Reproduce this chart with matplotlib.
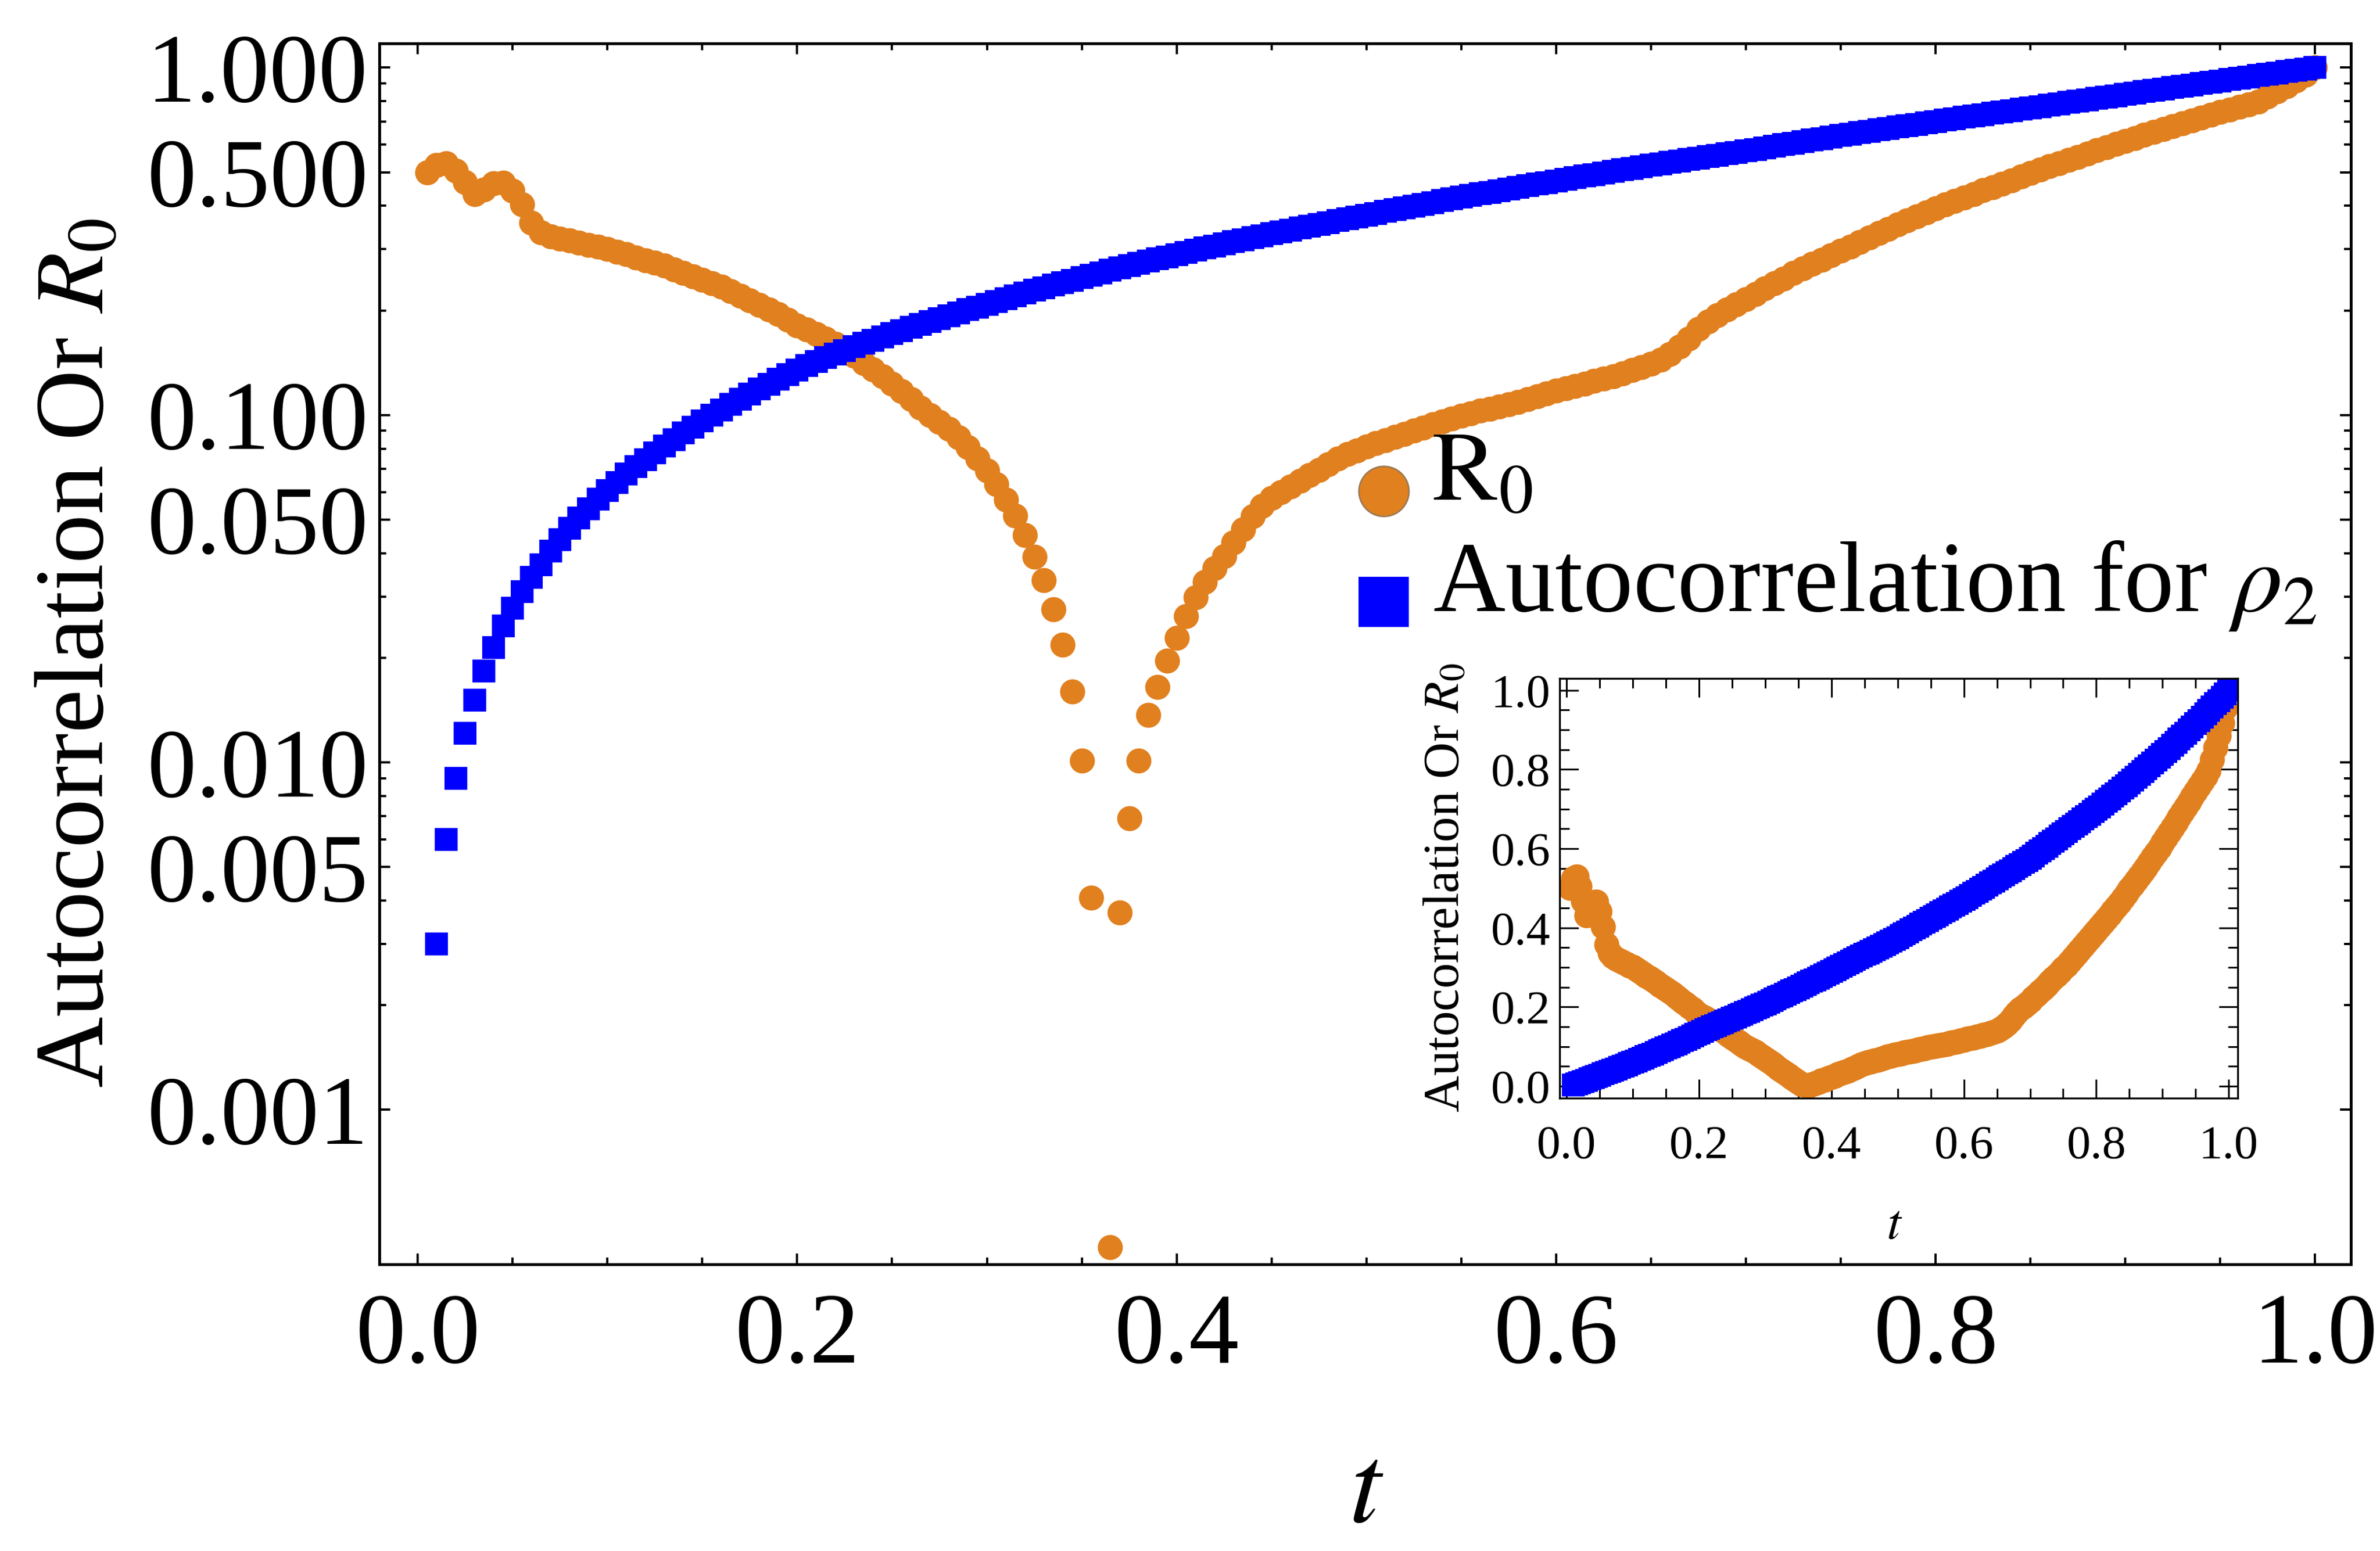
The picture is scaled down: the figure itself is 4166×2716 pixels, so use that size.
import numpy as np
import matplotlib
matplotlib.use('Agg')
import matplotlib.pyplot as plt
from matplotlib.ticker import NullFormatter

plt.rcParams['font.family'] = ['Liberation Serif', 'DejaVu Serif']
plt.rcParams['mathtext.fontset'] = 'stix'

# sampling grid t = 0.005 ... 1.000
t = np.round(np.arange(1, 201) * 0.005, 3)

# R0 (0.36 falls below the axis -> nan)
r0 = [0.500, 0.525, 0.530, 0.505, 0.468, 0.432, 0.445, 0.464, 0.466, 0.442,
      0.403, 0.358, 0.336, 0.327, 0.322, 0.318, 0.313, 0.309, 0.305, 0.301,
      0.295, 0.290, 0.284, 0.279, 0.274, 0.269, 0.262, 0.256, 0.251, 0.245,
      0.239, 0.234, 0.227, 0.220, 0.214, 0.207, 0.201, 0.195, 0.188, 0.181,
      0.176, 0.171, 0.166, 0.160, 0.154, 0.148, 0.141, 0.135, 0.129, 0.123,
      0.117, 0.111, 0.105, 0.100, 0.0955, 0.0912, 0.0861, 0.0807, 0.0750, 0.0692,
      0.0631, 0.0571, 0.0513, 0.0451, 0.0391, 0.0334, 0.0276, 0.0218, 0.0160, 0.0101,
      0.00408, np.nan, 0.000402, 0.00369, 0.00689, 0.0101, 0.0137, 0.0165, 0.0196, 0.0228,
      0.0263, 0.0299, 0.0330, 0.0362, 0.0392, 0.0430, 0.0468, 0.0510, 0.0547, 0.0576,
      0.0600, 0.0622, 0.0645, 0.0670, 0.0695, 0.0722, 0.0748, 0.0771, 0.0791, 0.0810,
      0.0828, 0.0846, 0.0864, 0.0882, 0.0900, 0.0920, 0.0940, 0.0959, 0.0977, 0.0993,
      0.1010, 0.1028, 0.1043, 0.1058, 0.1074, 0.1090, 0.1110, 0.1130, 0.1155, 0.1175,
      0.1193, 0.1212, 0.1232, 0.1252, 0.1272, 0.1294, 0.1318, 0.1345, 0.1375, 0.1405,
      0.1440, 0.1495, 0.1575, 0.166, 0.177, 0.186, 0.194, 0.201, 0.208, 0.215,
      0.223, 0.231, 0.239, 0.247, 0.256, 0.264, 0.272, 0.280, 0.288, 0.297,
      0.305, 0.314, 0.324, 0.334, 0.343, 0.353, 0.363, 0.373, 0.383, 0.393,
      0.403, 0.413, 0.423, 0.433, 0.443, 0.453, 0.463, 0.474, 0.486, 0.497,
      0.508, 0.520, 0.531, 0.542, 0.553, 0.565, 0.578, 0.590, 0.602, 0.614,
      0.627, 0.640, 0.653, 0.666, 0.679, 0.692, 0.705, 0.719, 0.732, 0.745,
      0.758, 0.771, 0.784, 0.798, 0.825, 0.855, 0.885, 0.918, 0.955, 1.000]

# autocorrelation for rho_2 (first sample t=0.005 is off the log axis)
auto_rho2 = [np.nan, 0.0030, 0.0060, 0.0090, 0.0121, 0.0151, 0.0183, 0.0214, 0.0247, 0.0278,
             0.0310, 0.0341, 0.0371, 0.0405, 0.0438, 0.0471, 0.0505, 0.0537, 0.0573, 0.0606,
             0.0639, 0.0675, 0.0709, 0.0743, 0.0779, 0.0813, 0.0850, 0.0887, 0.0923, 0.0962,
             0.0998, 0.1035, 0.1072, 0.1110, 0.1148, 0.1187, 0.1226, 0.1266, 0.1306, 0.1346,
             0.1386, 0.1426, 0.1462, 0.1498, 0.1534, 0.1570, 0.1606, 0.1642, 0.1678, 0.1714,
             0.1750, 0.1786, 0.1822, 0.1859, 0.1896, 0.1933, 0.1970, 0.2008, 0.2046, 0.2084,
             0.2124, 0.2164, 0.2204, 0.2244, 0.2284, 0.2324, 0.2364, 0.2404, 0.2444, 0.2485,
             0.2526, 0.2567, 0.2608, 0.2649, 0.2690, 0.2731, 0.2772, 0.2813, 0.2854, 0.2895,
             0.2938, 0.2981, 0.3024, 0.3067, 0.3110, 0.3153, 0.3196, 0.3239, 0.3282, 0.3325,
             0.3368, 0.3411, 0.3454, 0.3497, 0.3540, 0.3583, 0.3626, 0.3669, 0.3712, 0.3755,
             0.3803, 0.3851, 0.3899, 0.3947, 0.3995, 0.4043, 0.4091, 0.4139, 0.4187, 0.4235,
             0.4283, 0.4331, 0.4379, 0.4427, 0.4475, 0.4523, 0.4571, 0.4619, 0.4667, 0.4715,
             0.4767, 0.4819, 0.4871, 0.4923, 0.4975, 0.5027, 0.5079, 0.5131, 0.5183, 0.5235,
             0.5287, 0.5339, 0.5391, 0.5443, 0.5495, 0.5547, 0.5599, 0.5651, 0.5703, 0.5755,
             0.5817, 0.5879, 0.5941, 0.6003, 0.6065, 0.6127, 0.6189, 0.6251, 0.6313, 0.6375,
             0.6437, 0.6499, 0.6561, 0.6623, 0.6685, 0.6747, 0.6809, 0.6871, 0.6933, 0.6995,
             0.7061, 0.7127, 0.7193, 0.7259, 0.7325, 0.7391, 0.7457, 0.7523, 0.7589, 0.7655,
             0.7727, 0.7799, 0.7871, 0.7943, 0.8015, 0.8087, 0.8159, 0.8231, 0.8303, 0.8375,
             0.8453, 0.8531, 0.8609, 0.8687, 0.8765, 0.8843, 0.8921, 0.8999, 0.9077, 0.9155,
             0.9239, 0.9323, 0.9407, 0.9491, 0.9575, 0.9659, 0.9743, 0.9827, 0.9911, 1.0000]

y_major = [0.001, 0.005, 0.01, 0.05, 0.1, 0.5, 1.0]
y_major_labels = ['0.001', '0.005', '0.010', '0.050', '0.100', '0.500', '1.000']
x_major = [0.0, 0.2, 0.4, 0.6, 0.8, 1.0]
x_major_labels = ['0.0', '0.2', '0.4', '0.6', '0.8', '1.0']

orange = '#E1801F'
blue = '#0000FF'

fig = plt.figure(figsize=(20.83, 13.58), dpi=200)

# main log plot
ax = fig.add_axes([0.1594, 0.1847, 0.8284, 0.7873])
ax.plot(t, r0, 'o', color=orange, ms=15.8, mew=0, ls='none')
ax.plot(t, auto_rho2, 's', color=blue, ms=14.4, mew=0, ls='none')
ax.set_yscale('log')
ax.set_xlim(-0.0202, 1.0189)
ax.set_ylim(0.000358, 1.174)

ax.set_yticks(y_major)
ax.set_yticklabels(y_major_labels)
y_minor = [m * d for d in [0.001, 0.01, 0.1] for m in [2, 3, 4, 6, 7, 8, 9]]
ax.set_yticks(y_minor, minor=True)
ax.yaxis.set_minor_formatter(NullFormatter())
ax.set_xticks(x_major)
ax.set_xticklabels(x_major_labels)
ax.set_xticks([v for v in np.round(np.arange(0, 1.0001, 0.05), 2) if v not in x_major], minor=True)

ax.tick_params(which='both', direction='in', top=True, right=True, width=1.4)
ax.tick_params(axis='y', labelsize=62, pad=7)
ax.tick_params(axis='x', labelsize=63, pad=18)
ax.tick_params(which='major', length=6.8)
ax.tick_params(which='minor', length=4.3)
for s in ax.spines.values():
    s.set_linewidth(1.8)

fig.text(0.0335, 0.579, r'Autocorrelation Or $R_0$', rotation=90, ha='center', va='center', fontsize=62)
fig.text(0.574, 0.0364, r'$t$', ha='center', va='center', fontsize=72)

# legend, laid out by hand (marker sits on the baseline side like the original)
ax.plot([0.5093], [0.6334], 'o', color=orange, ms=31.5, mec='#9a7a55', mew=1,
        transform=ax.transAxes, clip_on=False)
ax.plot([0.5093], [0.5425], 's', color=blue, ms=32, mew=0,
        transform=ax.transAxes, clip_on=False)
ax.text(0.5336, 0.6257, r'$\mathrm{R}_0$', transform=ax.transAxes, fontsize=62,
        ha='left', va='baseline')
ax.text(0.5343, 0.5350, r'Autocorrelation for $\rho_2$', transform=ax.transAxes, fontsize=63,
        ha='left', va='baseline')

# inset, linear scale
axi = fig.add_axes([0.6552, 0.2918, 0.285, 0.2708])
axi.plot(t, r0, 'o', color=orange, ms=15.8, mew=0, ls='none')
axi.plot(t, auto_rho2, 's', color=blue, ms=14.4, mew=0, ls='none')
axi.set_xlim(-0.011, 1.0135)
axi.set_ylim(-0.031, 1.030)
axi.set_xticks(x_major)
axi.set_xticklabels(x_major_labels)
axi.set_yticks(x_major)
axi.set_yticklabels(x_major_labels)
inset_minor = [v for v in np.round(np.arange(0, 1.0001, 0.05), 2) if v not in x_major]
axi.set_xticks(inset_minor, minor=True)
axi.set_yticks(inset_minor, minor=True)
axi.tick_params(which='both', direction='in', top=True, right=True, width=1.1, labelsize=30)
axi.tick_params(which='major', length=12)
axi.tick_params(which='minor', length=6)
axi.tick_params(axis='y', pad=5.5)
axi.tick_params(axis='x', pad=17)
for s in axi.spines.values():
    s.set_linewidth(1.2)

fig.text(0.6075, 0.4276, r'Autocorrelation Or $R_0$', rotation=90, ha='center', va='center', fontsize=32)
fig.text(0.796, 0.2093, r'$t$', ha='center', va='center', fontsize=32)

fig.savefig('out.png', dpi=200)
